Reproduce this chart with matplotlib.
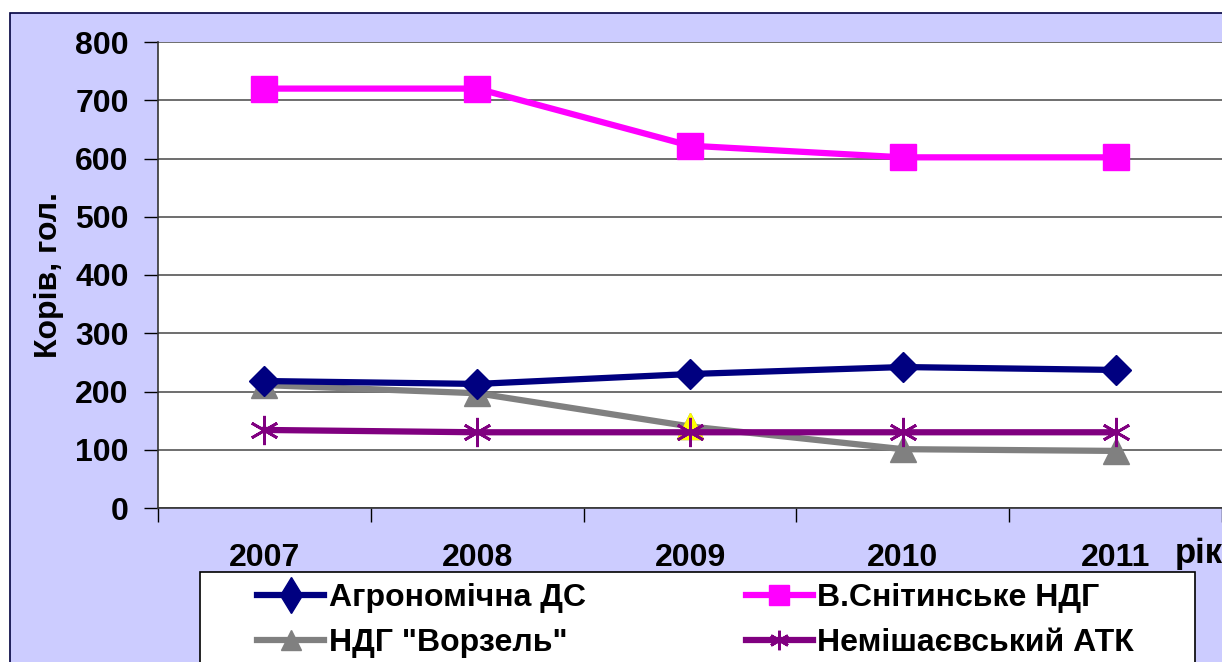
import matplotlib.pyplot as plt
import matplotlib.patches as patches

years = ['2007', '2008', '2009', '2010', '2011']
agro = [218, 213, 230, 242, 237]
snit = [720, 720, 622, 602, 602]
vorzel = [211, 197, 140, 101, 98]
nemish = [134, 130, 130, 130, 130]

plt.rcParams['font.family'] = ['Liberation Sans', 'DejaVu Sans']
plt.rcParams['font.weight'] = 'bold'

W, H = 1222, 662
fig = plt.figure(figsize=(W / 100, H / 100), dpi=100)
fig.patch.set_facecolor('white')
# lavender chart area with dark frame
frame = patches.Rectangle((10 / W, -0.05), 1.1, 1 - 13 / H + 0.05,
                          transform=fig.transFigure, facecolor='#CCCCFF',
                          edgecolor='#000040', linewidth=1.2, zorder=-5)
fig.patches.append(frame)
# legend box
lbox = patches.Rectangle((200 / W, -0.05), 995 / W, 1 - 572 / H + 0.05,
                         transform=fig.transFigure, facecolor='white',
                         edgecolor='black', linewidth=1.2, zorder=1)
fig.patches.append(lbox)

ax = fig.add_axes([158 / W, 1 - 508 / H, 1 - 158 / W, (508 - 42) / H])
ax.set_facecolor('white')

x = list(range(len(years)))
h1, = ax.plot(x, agro, color='#000080', lw=4.5, marker='D', ms=15, label='Агрономічна ДС', zorder=4)
h2, = ax.plot(x, snit, color='#FF00FF', lw=4.5, marker='s', ms=19, label='В.Снітинське НДГ', zorder=4)
h3, = ax.plot(x, vorzel, color='#808080', lw=4.5, marker='^', ms=19, label='НДГ "Ворзель"', zorder=3)
ax.plot(x[2], vorzel[2], marker='^', ms=19, color='#FFFF00', ls='none', zorder=3.5)
h4, = ax.plot(x, nemish, color='#800080', lw=4.5, marker=(6, 2, 0), ms=21, mew=2,
              label='Немішаєвський АТК', zorder=5)

ax.set_xlim(-0.5, 4.5)
ax.set_ylim(0, 800)
ax.set_yticks(range(0, 801, 100))
ax.set_xticks(x)
ax.set_xticklabels(years)
ax.set_xticks([i - 0.5 for i in range(6)], minor=True)
ax.tick_params(axis='x', which='major', length=0, pad=25, labelsize=23)
ax.tick_params(axis='x', which='minor', length=10, width=1, direction='out')
ax.tick_params(axis='y', length=10, width=1, direction='out', labelsize=23, pad=11)
for lab in ax.get_xticklabels() + ax.get_yticklabels():
    lab.set_fontweight('bold')
ax.grid(axis='y', color='#555555', lw=1.2)
ax.set_axisbelow(True)
for s in ['top', 'right']:
    ax.spines[s].set_visible(False)
for s in ['left', 'bottom']:
    ax.spines[s].set_color('#333333')
    ax.spines[s].set_linewidth(1.2)

ax.set_ylabel('Корів, гол.', fontsize=23, fontweight='bold', labelpad=8)
fig.text(1175 / W, 1 - 553 / H, 'рік', fontsize=25, fontweight='bold', va='center', ha='left')

leg = fig.legend([h1, h3, h2, h4], [h1.get_label(), h3.get_label(), h2.get_label(), h4.get_label()],
                 loc='upper left', bbox_to_anchor=(257 / W, 1 - 583 / H),
                 ncol=2, frameon=False, handlelength=2.1, handletextpad=0.15,
                 borderpad=0, labelspacing=0.47, borderaxespad=0, columnspacing=5,
                 prop={'weight': 'bold', 'size': 23})
leg.set_zorder(2)
for h in leg.legend_handles:
    h.set_markersize(14)
leg.legend_handles[0].set_marker('d')
leg.legend_handles[0].set_markersize(18)

fig.savefig('out.png', dpi=100)
